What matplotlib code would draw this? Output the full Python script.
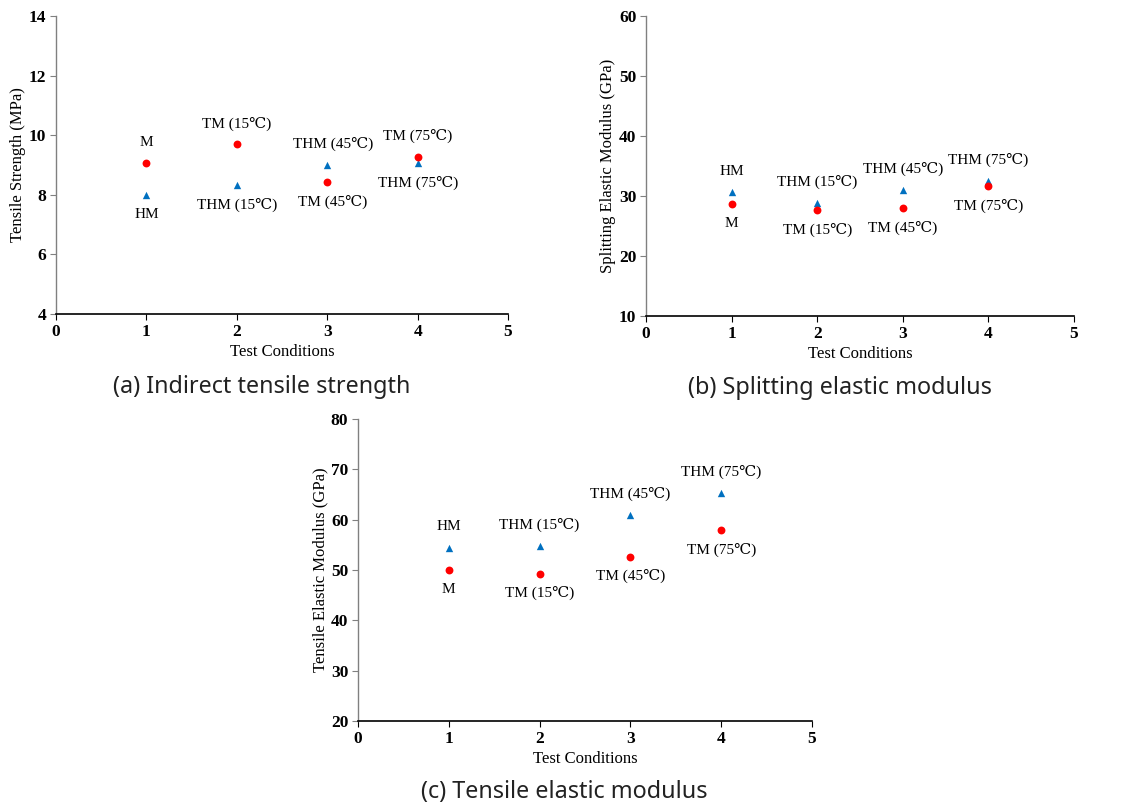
import matplotlib
matplotlib.use("Agg")
import matplotlib.pyplot as plt

conditions = [1, 2, 3, 4]

# (a) Indirect tensile strength (MPa)
ts_circle = [9.07, 9.69, 8.43, 9.27]
ts_triangle = [8.00, 8.32, 9.00, 9.06]
ts_circle_labels = ["M", "TM (15℃)", "TM (45℃)", "TM (75℃)"]
ts_triangle_labels = ["HM", "THM (15℃)", "THM (45℃)", "THM (75℃)"]
ts_circle_pos = ["above", "above", "below", "above"]
ts_triangle_pos = ["below", "below", "above", "below"]

# (b) Splitting elastic modulus (GPa)
se_circle = [28.67, 27.67, 28.0, 31.6]
se_triangle = [30.6, 28.9, 31.0, 32.5]
se_circle_pos = ["below", "below", "below", "below"]
se_triangle_pos = ["above", "above", "above", "above"]

# (c) Tensile elastic modulus (GPa)
te_circle = [50.0, 49.25, 52.6, 57.9]
te_triangle = [54.4, 54.75, 60.9, 65.3]
te_circle_pos = ["below", "below", "below", "below"]
te_triangle_pos = ["above", "above", "above", "above"]

xticks = [0, 1, 2, 3, 4, 5]

SERIF = ["Liberation Serif", "DejaVu Serif"]
CAPTION = ["Noto Sans", "DejaVu Sans"]
RED = "#FF0000"
BLUE = "#0070C0"

fig = plt.figure(figsize=(11.32, 8.06), dpi=100)


def make_panel(rect, circ, tri, cpos, tpos, ylim, yticks, ylabel, caption, cap_y, dx=None):
    ax = fig.add_axes(rect)
    ax.set_xlim(0, 5)
    ax.set_ylim(*ylim)
    ax.set_xticks(xticks)
    ax.set_yticks(yticks)
    for s in ("top", "right"):
        ax.spines[s].set_visible(False)
    ax.spines["left"].set_color("#808080")
    ax.spines["bottom"].set_color("black")
    ax.spines["left"].set_linewidth(1.0)
    ax.spines["bottom"].set_linewidth(1.2)
    ax.tick_params(axis="both", direction="out", length=4, width=0.8,
                   colors="black", labelsize=12.5, pad=3)
    ax.tick_params(axis="y", color="#808080")
    for lab in ax.get_xticklabels() + ax.get_yticklabels():
        lab.set_family(SERIF)
        lab.set_fontweight("bold")
    ax.set_xlabel("Test Conditions", family=SERIF, fontsize=12, labelpad=3)
    ax.set_ylabel(ylabel, family=SERIF, fontsize=12, labelpad=2)
    ax.scatter(conditions, tri, marker="^", s=28, color=BLUE, zorder=3, linewidths=0)
    ax.scatter(conditions, circ, marker="o", s=32, color=RED, zorder=4, linewidths=0)
    if dx is None:
        dx = [0, 0, 0, 0]
    for i, x in enumerate(conditions):
        for val, lab, pos in ((circ[i], ts_circle_labels[i], cpos[i]),
                              (tri[i], ts_triangle_labels[i], tpos[i])):
            off = 15 if pos == "above" else -14
            ax.annotate(lab, (x, val), xytext=(dx[i], off), textcoords="offset points",
                        ha="center", va="center", family=SERIF, fontsize=11,
                        annotation_clip=False)
    fig.text(rect[0] + rect[2] / 2 - 0.018, cap_y, caption, ha="center", va="center",
             family=CAPTION, fontsize=16.8, color="#222222")
    return ax


make_panel([0.0495, 0.6104, 0.3993, 0.3697], ts_circle, ts_triangle,
           ts_circle_pos, ts_triangle_pos, (4, 14), [4, 6, 8, 10, 12, 14],
           "Tensile Strength (MPa)", "(a) Indirect tensile strength", 1 - 387 / 806,
           dx=[0, 0, 4, 0])
make_panel([0.5707, 0.6079, 0.3781, 0.3722], se_circle, se_triangle,
           se_circle_pos, se_triangle_pos, (10, 60), [10, 20, 30, 40, 50, 60],
           "Splitting Elastic Modulus (GPa)", "(b) Splitting elastic modulus", 1 - 388 / 806)
make_panel([0.3163, 0.1055, 0.4010, 0.3747], te_circle, te_triangle,
           te_circle_pos, te_triangle_pos, (20, 80), [20, 30, 40, 50, 60, 70, 80],
           "Tensile Elastic Modulus (GPa)", "(c) Tensile elastic modulus", 1 - 792 / 806)

fig.savefig("out.png", dpi=100)
